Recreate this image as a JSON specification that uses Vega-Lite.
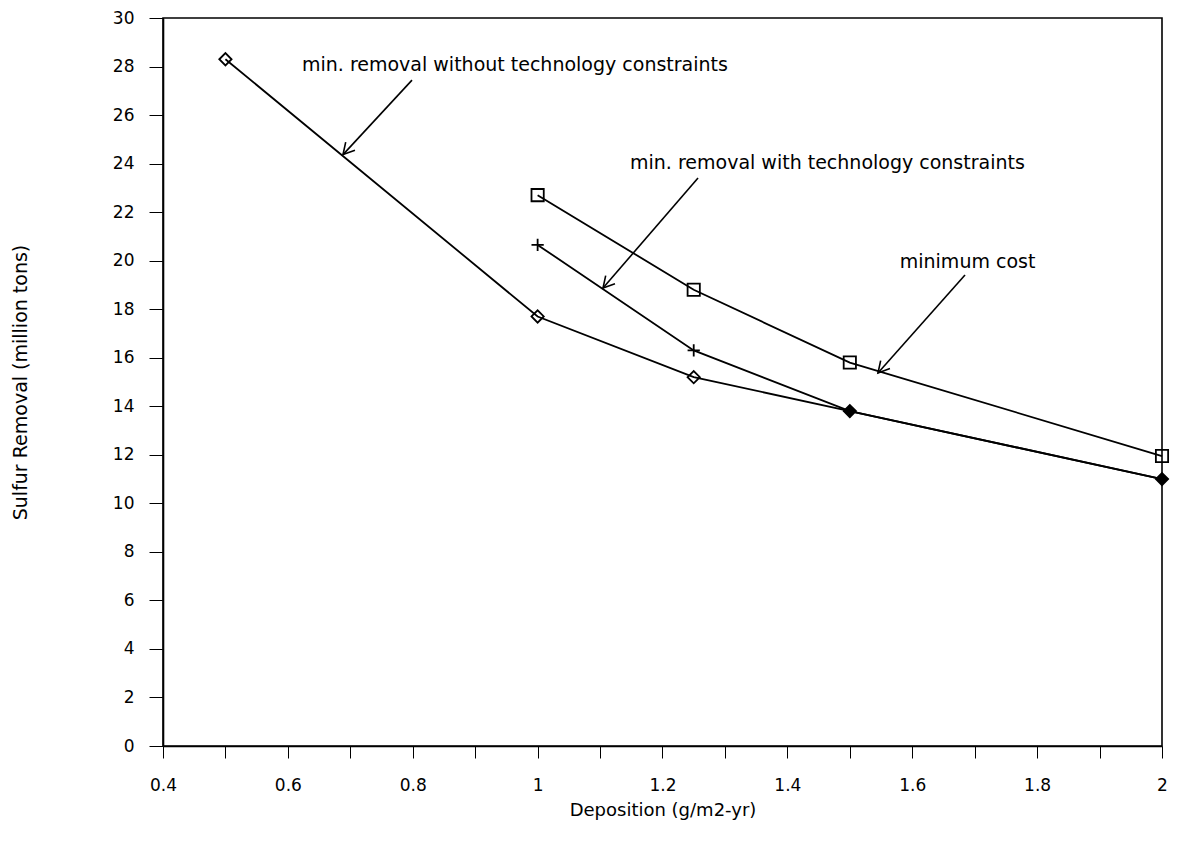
{
  "$schema": "https://vega.github.io/schema/vega-lite/v6.json",
  "width": 999,
  "height": 728,
  "autosize": {"type": "none"},
  "padding": {"left": 163, "top": 18, "right": 18, "bottom": 104},
  "background": "white",
  "config": {
    "view": {"stroke": "black", "strokeWidth": 1.6},
    "axis": {
      "labelFont": "DejaVu Sans",
      "titleFont": "DejaVu Sans",
      "labelColor": "black",
      "titleColor": "black",
      "domainColor": "black",
      "tickColor": "black",
      "grid": false,
      "labelFontSize": 17,
      "titleFontSize": 17,
      "titleFontWeight": "normal"
    }
  },
  "datasets": {
    "series": [
      {"series": "A", "deposition": 0.5, "removal": 28.3},
      {"series": "A", "deposition": 1.0, "removal": 17.7},
      {"series": "A", "deposition": 1.25, "removal": 15.2},
      {"series": "A", "deposition": 1.5, "removal": 13.8},
      {"series": "A", "deposition": 2.0, "removal": 11.0},
      {"series": "B", "deposition": 1.0, "removal": 20.65},
      {"series": "B", "deposition": 1.25, "removal": 16.3},
      {"series": "B", "deposition": 1.5, "removal": 13.8},
      {"series": "B", "deposition": 2.0, "removal": 11.0},
      {"series": "C", "deposition": 1.0, "removal": 22.7},
      {"series": "C", "deposition": 1.25, "removal": 18.8},
      {"series": "C", "deposition": 1.5, "removal": 15.8},
      {"series": "C", "deposition": 2.0, "removal": 11.95}
    ],
    "notes": [
      {"label": "min. removal without technology constraints", "tx": 0.6226, "ty": 28.06, "x0": 0.7988, "y0": 27.44, "x1": 0.6883, "y1": 24.37},
      {"label": "min. removal with technology constraints", "tx": 1.148, "ty": 24.02, "x0": 1.2569, "y0": 23.41, "x1": 1.1047, "y1": 18.87},
      {"label": "minimum cost", "tx": 1.58, "ty": 19.94, "x0": 1.6845, "y0": 19.41, "x1": 1.5451, "y1": 15.37}
    ]
  },
  "layer": [
    {
      "data": {"name": "series"},
      "mark": {"type": "line", "color": "black", "strokeWidth": 1.8},
      "encoding": {
        "x": {
          "field": "deposition", "type": "quantitative",
          "scale": {"domain": [0.4, 2], "nice": false, "zero": false},
          "axis": {
            "title": "Deposition (g/m2-yr)",
            "titleFontSize": 18,
            "values": [0.4, 0.5, 0.6, 0.7, 0.8, 0.9, 1.0, 1.1, 1.2, 1.3, 1.4, 1.5, 1.6, 1.7, 1.8, 1.9, 2.0],
            "labelExpr": "round(datum.value * 10) % 2 == 0 ? format(datum.value, '~g') : ''",
            "tickSize": 12,
            "labelPadding": 19,
            "titlePadding": 8,
            "domainWidth": 1.6,
            "labelFlush": false
          }
        },
        "y": {
          "field": "removal", "type": "quantitative",
          "scale": {"domain": [0, 30], "nice": false},
          "axis": {
            "title": "Sulfur Removal (million tons)",
            "titleFontSize": 19,
            "values": [0, 2, 4, 6, 8, 10, 12, 14, 16, 18, 20, 22, 24, 26, 28, 30],
            "tickSize": 14,
            "labelPadding": 15,
            "titlePadding": 82,
            "domainWidth": 1.6,
            "labelFlush": false
          }
        },
        "detail": {"field": "series"}
      }
    },
    {
      "data": {"name": "series"},
      "mark": {"type": "point", "filled": false, "stroke": "black", "strokeWidth": 1.8, "opacity": 1},
      "encoding": {
        "x": {"field": "deposition", "type": "quantitative"},
        "y": {"field": "removal", "type": "quantitative"},
        "shape": {
          "field": "series", "type": "nominal",
          "scale": {"domain": ["A", "B", "C"], "range": ["diamond", "M -1 0 L 1 0 M 0 -1 L 0 1", "square"]},
          "legend": null
        },
        "size": {
          "field": "series", "type": "nominal",
          "scale": {"domain": ["A", "B", "C"], "range": [150, 150, 170]},
          "legend": null
        }
      }
    },
    {
      "data": {"name": "series"},
      "transform": [{"filter": "datum.series == 'B' && datum.deposition >= 1.5"}],
      "mark": {"type": "point", "shape": "diamond", "filled": true, "color": "black", "size": 150, "opacity": 1},
      "encoding": {
        "x": {"field": "deposition", "type": "quantitative"},
        "y": {"field": "removal", "type": "quantitative"}
      }
    },
    {
      "data": {"name": "notes"},
      "mark": {"type": "rule", "color": "black", "strokeWidth": 1.6},
      "encoding": {
        "x": {"field": "x0", "type": "quantitative"},
        "y": {"field": "y0", "type": "quantitative"},
        "x2": {"field": "x1"},
        "y2": {"field": "y1"}
      }
    },
    {
      "data": {"name": "notes"},
      "mark": {"type": "point", "shape": "M -0.55 1 L 0 0 L 0.55 1", "filled": false, "stroke": "black", "strokeWidth": 1.6, "size": 500, "angle": 221, "opacity": 1},
      "encoding": {
        "x": {"field": "x1", "type": "quantitative"},
        "y": {"field": "y1", "type": "quantitative"}
      }
    },
    {
      "data": {"name": "notes"},
      "mark": {"type": "text", "align": "left", "baseline": "middle", "font": "DejaVu Sans", "fontSize": 19, "color": "black"},
      "encoding": {
        "x": {"field": "tx", "type": "quantitative"},
        "y": {"field": "ty", "type": "quantitative"},
        "text": {"field": "label"}
      }
    }
  ]
}
